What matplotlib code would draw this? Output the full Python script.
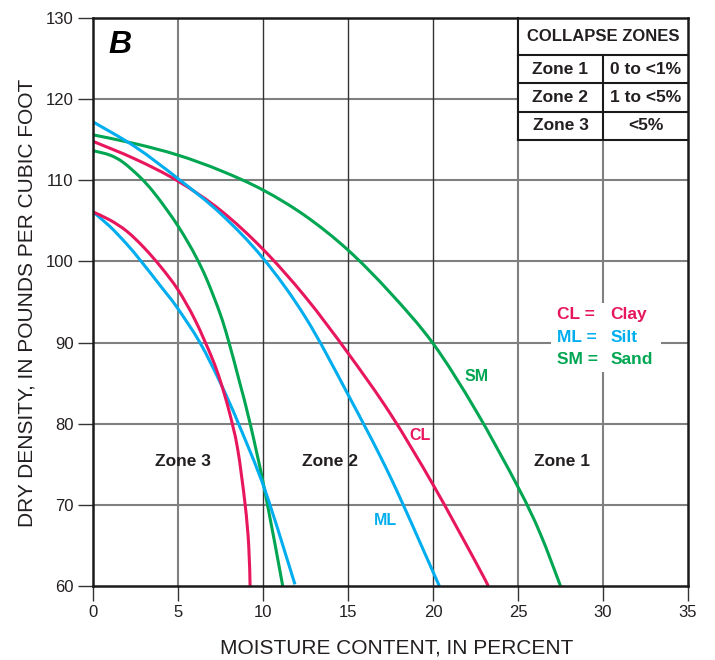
import matplotlib
matplotlib.use("Agg")
import matplotlib.pyplot as plt
from matplotlib.patches import Rectangle, PathPatch
from matplotlib.path import Path
import numpy as np

plt.rcParams['font.family'] = ['Liberation Sans', 'DejaVu Sans']

# ---- data ----
sm_outer_x = [0, 2.5, 5, 7.5, 10, 12.5, 15, 17.5, 20, 22.5, 25, 26.3, 27.5]
sm_outer_y = [115.6, 114.5, 113.1, 111.2, 108.8, 105.6, 101.4, 96.1, 89.9, 81.7, 72.2, 66.5, 60]

cl_outer_x = [0, 2.5, 5, 7.5, 10, 12.5, 15, 17.5, 20, 22.5, 23.25]
cl_outer_y = [114.8, 112.6, 109.9, 106.3, 101.5, 95.6, 88.7, 81.2, 72.5, 63.0, 60]

ml_outer_x = [0, 2.5, 5, 7.5, 10, 12.5, 15, 17.5, 20.37]
ml_outer_y = [117.2, 114.1, 110.2, 105.9, 100.4, 93.1, 83.6, 73.4, 60]

sm_inner_x = [0, 1, 1.78, 2.76, 3.5, 4.33, 5.02, 5.6, 6.1, 6.69, 7.47, 7.96, 8.6, 9.24, 10.1, 11.16]
sm_inner_y = [113.65, 113.1, 112.2, 110.4, 108.7, 106.4, 104.3, 102.3, 100.4, 97.8, 93.6, 90.3, 85.3, 80.05, 71.8, 60]

cl_inner_x = [0, 1, 2, 3, 4, 5, 6, 7, 7.5, 8, 8.5, 8.94, 9.16, 9.24]
cl_inner_y = [106.1, 105.1, 103.7, 101.7, 99.3, 96.5, 92.8, 88.1, 85.2, 81.6, 77.0, 70.2, 65, 60]

ml_inner_x = [0, 1, 2, 2.8, 4, 4.92, 6.29, 7.5, 8.55, 10.12, 11.88]
ml_inner_y = [106.1, 104.3, 102.1, 100.1, 96.9, 94.4, 90.0, 85.0, 80.05, 71.8, 60.2]

x_ticks = [0, 5, 10, 15, 20, 25, 30, 35]
y_ticks = [60, 70, 80, 90, 100, 110, 120, 130]

zone_labels = ["Zone 3", "Zone 2", "Zone 1"]
table_rows = [("Zone 1", "0 to <1%"), ("Zone 2", "1 to <5%"), ("Zone 3", "<5%")]
legend_items = [("CL =", "Clay"), ("ML =", "Silt"), ("SM =", "Sand")]

RED = '#e8175d'
BLUE = '#00aeef'
GREEN = '#00a651'
TXT = '#231f20'


def smooth_curve(ax, xs, ys, color, lw):
    """Draw a smooth (Catmull-Rom style Bezier) line through the read points."""
    pts = np.column_stack([xs, ys]).astype(float)
    n = len(pts)
    verts = [tuple(pts[0])]
    codes = [Path.MOVETO]
    for i in range(n - 1):
        p0 = pts[i - 1] if i > 0 else pts[i]
        p1 = pts[i]
        p2 = pts[i + 1]
        p3 = pts[i + 2] if i + 2 < n else pts[i + 1]
        c1 = p1 + (p2 - p0) / 6.0
        c2 = p2 - (p3 - p1) / 6.0
        verts += [tuple(c1), tuple(c2), tuple(p2)]
        codes += [Path.CURVE4] * 3
    ax.add_patch(PathPatch(Path(verts, codes), facecolor='none', edgecolor=color,
                           lw=lw, zorder=3, capstyle='butt'))


fig = plt.figure(figsize=(7.15, 6.6), dpi=100)
ax = fig.add_axes([93/715, 74/660, 595/715, 568/660])
ax.set_xlim(0, 35)
ax.set_ylim(60, 130)

# grid
for yv in y_ticks[1:-1]:
    ax.axhline(yv, color='#808080', lw=1.5, zorder=1)
for xv in x_ticks[1:-1]:
    if xv in (10, 15, 20):
        ax.axvline(xv, color='#333333', lw=1.0, zorder=1)
    else:
        ax.axvline(xv, color='#808080', lw=1.5, zorder=1)

lw = 2.2
smooth_curve(ax, sm_outer_x, sm_outer_y, GREEN, lw)
smooth_curve(ax, cl_outer_x, cl_outer_y, RED, lw)
smooth_curve(ax, ml_outer_x, ml_outer_y, BLUE, lw)
smooth_curve(ax, sm_inner_x, sm_inner_y, GREEN, lw)
smooth_curve(ax, ml_inner_x, ml_inner_y, BLUE, lw)
smooth_curve(ax, cl_inner_x, cl_inner_y, RED, lw)

# spines & ticks
for s in ax.spines.values():
    s.set_linewidth(1.8)
    s.set_color('#1a1a1a')
    s.set_zorder(6)
ax.set_xticks(x_ticks)
ax.set_yticks(y_ticks)
ax.tick_params(axis='both', direction='out', length=11, width=1.0, color='#333333',
               labelsize=12, labelcolor=TXT, pad=3)
fig.text(397/715, 1 - 648/660, "MOISTURE CONTENT, IN PERCENT", fontsize=15, color=TXT,
         ha='center', va='center')
fig.text(27/715, 1 - 303/660, "DRY DENSITY, IN POUNDS PER CUBIC FOOT", fontsize=15, color=TXT,
         ha='center', va='center', rotation=90)

# panel letter
ax.text(1.6, 126.7, "B", fontsize=23, fontweight='bold', fontstyle='italic',
        ha='center', va='center', color='black', zorder=7)

# zone labels
zone_pos = [(5.29, 75.3), (13.94, 75.3), (27.6, 75.3)]
for lab, (xx, yy) in zip(zone_labels, zone_pos):
    ax.text(xx, yy, lab, fontsize=12.5, fontweight='bold', color=TXT,
            ha='center', va='center', zorder=5)

# curve labels
ax.text(19.24, 78.6, "CL", fontsize=11.5, fontweight='bold', color=RED, ha='center', va='center', zorder=5)
ax.text(17.18, 68.1, "ML", fontsize=11.5, fontweight='bold', color=BLUE, ha='center', va='center', zorder=5)
ax.text(22.57, 85.8, "SM", fontsize=11.5, fontweight='bold', color=GREEN, ha='center', va='center', zorder=5)

# legend box (white background cutting grid)
ax.add_patch(Rectangle((26.97, 86.4), 6.47, 8.5, facecolor='white', edgecolor='none', zorder=2))
leg_colors = [RED, BLUE, GREEN]
leg_y = [93.4, 90.6, 87.9]
for (a, b), c, yy in zip(legend_items, leg_colors, leg_y):
    ax.text(27.3, yy, a, fontsize=12.5, fontweight='bold', color=c, ha='left', va='center', zorder=5)
    ax.text(30.45, yy, b, fontsize=12.5, fontweight='bold', color=c, ha='left', va='center', zorder=5)

# collapse zones table
t_left, t_mid, t_right = 25, 30, 35
t_rows = [130, 125.44, 121.95, 118.45, 114.97]
ax.add_patch(Rectangle((t_left, t_rows[-1]), t_right - t_left, t_rows[0] - t_rows[-1],
                       facecolor='white', edgecolor='none', zorder=4, clip_on=False))
tl_kw = dict(color='#1a1a1a', lw=1.5, zorder=5, clip_on=False)
ax.plot([t_left, t_left], [t_rows[-1], t_rows[0]], **tl_kw)
for yy in t_rows[1:]:
    ax.plot([t_left, t_right], [yy, yy], **tl_kw)
ax.plot([t_mid, t_mid], [t_rows[-1], t_rows[1]], **tl_kw)
ax.text((t_left + t_right) / 2, (t_rows[0] + t_rows[1]) / 2, "COLLAPSE ZONES", fontsize=12,
        fontweight='bold', color=TXT, ha='center', va='center', zorder=6)
for i, (a, b) in enumerate(table_rows):
    yc = (t_rows[i + 1] + t_rows[i + 2]) / 2
    ax.text((t_left + t_mid) / 2, yc, a, fontsize=12.5, fontweight='bold', color=TXT,
            ha='center', va='center', zorder=6)
    ax.text((t_mid + t_right) / 2, yc, b, fontsize=12.5, fontweight='bold', color=TXT,
            ha='center', va='center', zorder=6)

fig.savefig("out.png", dpi=100)
